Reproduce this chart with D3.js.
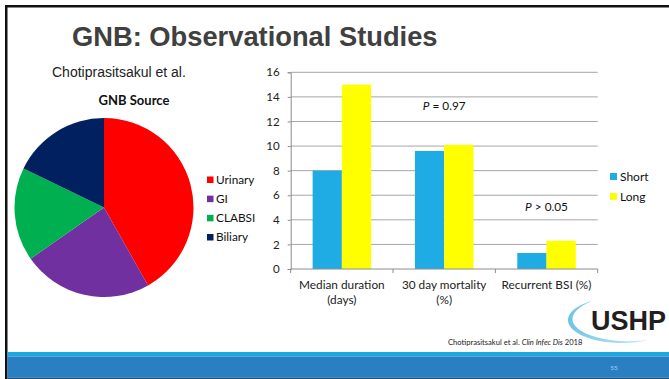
<!DOCTYPE html>
<html><head><meta charset="utf-8">
<script src="https://cdn.jsdelivr.net/npm/d3@7"></script>
<style>
html,body{margin:0;padding:0;background:#fff;}
svg{display:block;}
text{font-family:Lato,"Open Sans",sans-serif;}
</style></head>
<body>
<svg id="c" width="669" height="379"></svg>
<script>
// ---- data ----
const pieLabels = ["Urinary","GI","CLABSI","Biliary"];
const pieValues = [41.8,23.5,16.9,17.8];
const pieColors = ["#FF0000","#7030A0","#00B050","#002060"];

const categories = [["Median duration","(days)"],["30 day mortality","(%)"],["Recurrent BSI (%)"]];
const seriesNames = ["Short","Long"];
const shortValues = [8,9.6,1.3];
const longValues = [15,10.1,2.3];
const seriesColors = ["#1FABE3","#FFFF00"];
const yTicks = [0,2,4,6,8,10,12,14,16];
const annotations = [{cat:1,y:12.9,p:"P",rest:" = 0.97"},{cat:2,y:4.7,p:"P",rest:" > 0.05"}];

const svg = d3.select("#c");
svg.append("rect").attr("width",669).attr("height",379).attr("fill","#fff");

// slide frame
svg.append("rect").attr("x",5).attr("y",5).attr("width",664).attr("height",2.5).attr("fill","#111");
svg.append("rect").attr("x",5).attr("y",5).attr("width",2.5).attr("height",374).attr("fill","#111");

// bottom bands
svg.append("rect").attr("x",7.5).attr("y",352).attr("width",662).attr("height",4.5).attr("fill","#1CA7E0");
svg.append("rect").attr("x",7.5).attr("y",356.5).attr("width",662).attr("height",21).attr("fill","#2A7FC2");
svg.append("rect").attr("x",7.5).attr("y",377.5).attr("width",662).attr("height",1.5).attr("fill","#1B4F7C");
svg.append("text").attr("x",614).attr("y",370).attr("text-anchor","middle")
  .attr("font-size",6.5).attr("fill","#A8D4F2").text("55");

// title
svg.append("text").attr("x",72).attr("y",46)
  .style("font-family","'Liberation Sans',Arial,sans-serif").attr("font-weight","bold")
  .attr("font-size",27.3).attr("fill","#404040").text("GNB: Observational Studies");

svg.append("text").attr("x",52).attr("y",77)
  .style("font-family","'Liberation Sans',Arial,sans-serif")
  .attr("font-size",14).attr("fill","#222").text("Chotiprasitsakul et al.");

// pie
svg.append("text").attr("x",134).attr("y",105).attr("text-anchor","middle")
  .attr("font-weight","bold").attr("font-size",13).attr("fill","#111").text("GNB Source");
const pie = d3.pie().sort(null).value(d=>d);
const arc = d3.arc().innerRadius(0).outerRadius(89.5);
const pg = svg.append("g").attr("transform","translate(104,207.5)");
pg.selectAll("path").data(pie(pieValues)).join("path")
  .attr("d",arc).attr("fill",(d,i)=>pieColors[i]);

const pl = svg.append("g");
const plY = d3.scalePoint().domain(pieLabels).range([179.5,237]);
pieLabels.forEach((l,i)=>{
  pl.append("rect").attr("x",207).attr("y",plY(l)-3).attr("width",6.5).attr("height",6.5).attr("fill",pieColors[i]);
  pl.append("text").attr("x",216).attr("y",plY(l)+4).attr("font-size",11.8).attr("fill","#111").text(l);
});

// bar chart
const x0 = d3.scaleBand().domain(d3.range(categories.length)).range([290.7,597.7]).padding(0);
const x1 = d3.scaleBand().domain(seriesNames).range([0,x0.bandwidth()]).paddingInner(0).paddingOuter(0.75);
const y = d3.scaleLinear().domain([0,16]).range([269,72.3]);

const grid = svg.append("g");
grid.selectAll("line").data(yTicks.filter(t=>t>0)).join("line")
  .attr("x1",290.7).attr("x2",597.7).attr("y1",d=>y(d)).attr("y2",d=>y(d))
  .attr("stroke","#A6A6A6").attr("stroke-width",1);

const yAxis = svg.append("g").attr("transform","translate(290.7,0)")
  .call(d3.axisLeft(y).tickValues(yTicks).tickSize(3).tickPadding(8));
yAxis.select(".domain").attr("stroke","#8C8C8C");
yAxis.selectAll(".tick line").attr("stroke","#8C8C8C");
yAxis.selectAll("text").attr("font-size",11.5).attr("fill","#222").style("font-family","Lato,sans-serif");

const bars = svg.append("g");
const rows = categories.map((c,i)=>({i, vals:[shortValues[i],longValues[i]]}));
rows.forEach(r=>{
  bars.selectAll(null).data(r.vals).join("rect")
    .attr("x",(d,j)=>x0(r.i)+x1(seriesNames[j]))
    .attr("width",x1.bandwidth())
    .attr("y",d=>y(d)).attr("height",d=>y(0)-y(d))
    .attr("fill",(d,j)=>seriesColors[j]);
});

const xAxis = svg.append("g").attr("transform","translate(0,269)");
xAxis.append("line").attr("x1",290.7).attr("x2",597.7).attr("stroke","#8C8C8C");
xAxis.selectAll(".tk").data(d3.range(categories.length+1)).join("line")
  .attr("x1",d=>290.7+d*x0.step()).attr("x2",d=>290.7+d*x0.step())
  .attr("y1",0).attr("y2",4).attr("stroke","#8C8C8C");
categories.forEach((lines,i)=>{
  const t = xAxis.append("text").attr("text-anchor","middle").attr("font-size",11.8).attr("fill","#222");
  lines.forEach((ln,k)=>t.append("tspan").attr("x",x0(i)+x0.bandwidth()/2).attr("y",20+k*14.5).text(ln));
});

annotations.forEach(a=>{
  const t = svg.append("text").attr("x",x0(a.cat)+x0.bandwidth()/2).attr("y",y(a.y))
    .attr("text-anchor","middle").attr("font-size",11.8).attr("fill","#111");
  t.append("tspan").attr("font-style","italic").text(a.p);
  t.append("tspan").text(a.rest);
});

const lg = svg.append("g");
seriesNames.forEach((s,i)=>{
  lg.append("rect").attr("x",610).attr("y",173+i*20).attr("width",7).attr("height",7).attr("fill",seriesColors[i]);
  lg.append("text").attr("x",620).attr("y",180.5+i*20).attr("font-size",12).attr("fill","#111").text(s);
});

// logo
const cx=622, cy=320, rx=54, ry=23;
const t1 = 235*Math.PI/180, t2 = 60*Math.PI/180;
const N=60, outer=[], inner=[];
for(let k=0;k<=N;k++){
  const t = t1 + (t2-t1)*k/N;
  const w = 5.2*Math.pow(Math.sin(Math.PI*k/N),0.7);
  outer.push([cx+rx*Math.cos(t), cy+ry*Math.sin(t)]);
  inner.push([cx+(rx-w)*Math.cos(t), cy+(ry-w*0.6)*Math.sin(t)]);
}
const defs = svg.append("defs");
const gr = defs.append("linearGradient").attr("id","sw").attr("x1","0").attr("x2","1");
gr.append("stop").attr("offset","0").attr("stop-color","#6FC3E8");
gr.append("stop").attr("offset","1").attr("stop-color","#CDEAF7");
svg.append("path").attr("d",d3.line()(outer.concat(inner.reverse()))+"Z").attr("fill","url(#sw)");
svg.append("text").attr("x",591).attr("y",330)
  .style("font-family","'Liberation Sans',Arial,sans-serif").attr("font-weight","bold")
  .attr("font-size",27).attr("fill","#231F20").text("USHP");

// citation
const cit = svg.append("text").attr("x",448).attr("y",345).attr("font-size",7.6).attr("fill","#222");
cit.append("tspan").text("Chotiprasitsakul et al. ");
cit.append("tspan").attr("font-style","italic").text("Clin Infec Dis");
cit.append("tspan").text(" 2018");
</script>
</body></html>
